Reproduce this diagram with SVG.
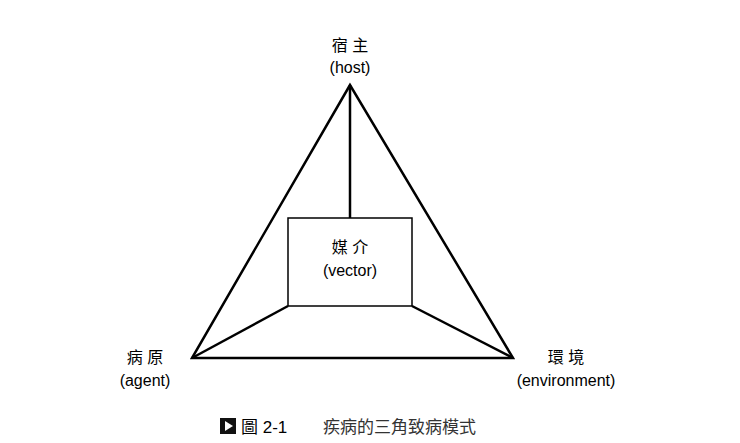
<svg xmlns="http://www.w3.org/2000/svg" width="740" height="443" viewBox="0 0 740 443">
<style>
.t{font-family:"Liberation Sans","Noto Sans CJK TC",sans-serif;font-size:16px;fill:#000;text-anchor:middle}
.l{stroke:#000;stroke-width:2.5;fill:none;stroke-linejoin:miter}
</style>
<rect width="740" height="443" fill="#fff"/>
<g id="connectors">
<polygon class="l" points="350,85 192,358 513,358"/>
<line class="l" x1="350" y1="85" x2="350" y2="218"/>
<line class="l" x1="192" y1="358" x2="288" y2="306"/>
<line class="l" x1="513" y1="358" x2="412" y2="306"/>
</g>
<g id="host"><text class="t" x="350" y="51">宿 主</text><text class="t" x="350" y="73">(host)</text></g>
<g id="vector"><rect x="288" y="218" width="124" height="88" fill="#fff" stroke="#000" stroke-width="1.5"/><text class="t" x="350" y="253">媒 介</text><text class="t" x="350" y="276">(vector)</text></g>
<g id="agent"><text class="t" x="145" y="363">病 原</text><text class="t" x="145" y="386">(agent)</text></g>
<g id="environment"><text class="t" x="566" y="363">環 境</text><text class="t" x="566" y="386">(environment)</text></g>
<g id="caption">
<rect x="220" y="418" width="16" height="16" fill="#111"/>
<polygon points="225,421 225,431 233,426" fill="#fff"/>
<text class="t" x="241" y="433" style="text-anchor:start;font-size:17px">圖 2-1</text>
<text class="t" x="323" y="433" style="text-anchor:start;font-size:17px;fill:#333">疾病的三角致病模式</text>
</g>
</svg>
